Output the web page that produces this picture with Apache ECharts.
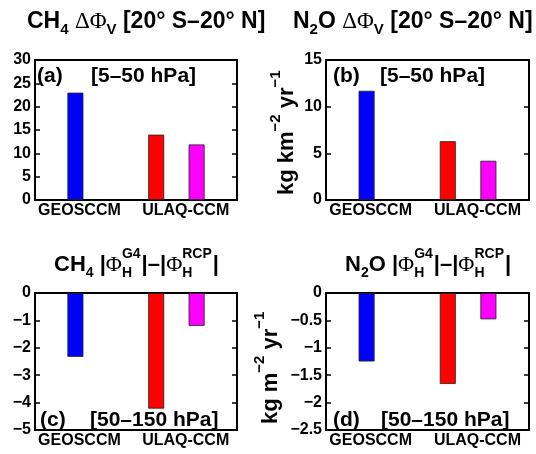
<!DOCTYPE html>
<html><head><meta charset="utf-8">
<script src="https://cdn.jsdelivr.net/npm/echarts@6/dist/echarts.min.js"></script>
<style>html,body{margin:0;padding:0;background:#fff}#c{width:536px;height:454px}</style>
</head><body><div id="c"></div><script>
// ---- data ----
const models = ['GEOSCCM', 'ULAQ-CCM'];
const barSlots = [1, 3, 4];              // slot of each bar on the 0..5 x range
const barColors = ['#0000ff', '#ff0000', '#ff00ff'];
const ch4Vertical = [23.0, 14.0, 11.9];   // (a)
const n2oVertical = [11.7, 6.3, 4.2];     // (b)
const ch4Horizontal = [-2.33, -4.22, -1.2]; // (c)
const n2oHorizontal = [-1.25, -1.66, -0.48]; // (d)
const yRanges = [[0, 30, 5], [0, 15, 5], [-5, 0, 1], [-2.5, 0, 0.5]];
const panelTags = ['(a)', '(b)', '(c)', '(d)'];
const layerTags = ['[5\u201350 hPa]', '[5\u201350 hPa]', '[50\u2013150 hPa]', '[50\u2013150 hPa]'];

const panels = [ch4Vertical, n2oVertical, ch4Horizontal, n2oHorizontal];
const grids = [
  {left: 35, top: 60, width: 202, height: 140},
  {left: 326, top: 60, width: 203, height: 140},
  {left: 35, top: 293, width: 202, height: 137},
  {left: 326, top: 293, width: 203, height: 137}
];
const chart = echarts.init(document.getElementById('c'), null, {renderer: 'canvas'});
const fmtY = v => (v < 0 ? '\u2212' : '') + Math.abs(v);
const option = {
  animation: false,
  backgroundColor: '#fff',
  grid: grids.map(g => Object.assign({show: true, borderColor: '#000', borderWidth: 2, backgroundColor: 'transparent'}, g)),
  xAxis: grids.map((g, i) => ({
    type: 'value', gridIndex: i, min: 0, max: 5,
    axisLine: {show: false}, axisTick: {show: false}, splitLine: {show: false},
    axisLabel: {
      customValues: [1.1, 3.73],
      formatter: v => (v < 2 ? models[0] : models[1]),
      color: '#000', fontWeight: 'bold', fontSize: 16, fontFamily: 'Liberation Sans', margin: 3
    }
  })),
  yAxis: [].concat(...grids.map((g, i) => {
    const [mn, mx, it] = yRanges[i];
    const base = {type: 'value', gridIndex: i, min: mn, max: mx, interval: it,
      splitLine: {show: false}, axisLine: {show: false},
      axisTick: {show: true, inside: true, length: 5, lineStyle: {color: '#000', width: 1.5}}};
    return [
      Object.assign({}, base, {position: 'left', axisLabel: {formatter: fmtY, color: '#000', fontWeight: 'bold', fontSize: 16, fontFamily: 'Liberation Sans', margin: 4, showMinLabel: true, showMaxLabel: true}}),
      Object.assign({}, base, {position: 'right', axisLabel: {show: false}})
    ];
  })),
  series: panels.map((vals, i) => ({
    type: 'bar', xAxisIndex: i, yAxisIndex: 2 * i, barWidth: 16,
    itemStyle: {borderColor: '#222', borderWidth: 0.8},
    data: barSlots.map((x, k) => ({value: [x, vals[k]], itemStyle: {color: barColors[k]}}))
  })),
  graphic: []
};

// ---- math-like text built from pieces ----
const mctx = document.createElement('canvas').getContext('2d');
function tw(t, font) { mctx.font = font; return mctx.measureText(t).width; }
function txt(t, x, y, font) {
  return {type: 'text', x: x, y: y, silent: true,
    style: {text: t, font: font, fill: '#000', align: 'left', verticalAlign: 'middle', textAlign: 'left', textVerticalAlign: 'middle'}};
}
function mathRow(parts, o) {
  const fonts = {
    main: 'bold ' + o.size + 'px "Liberation Sans"',
    greek: o.size + 'px "Liberation Serif"',
    small: 'bold ' + o.small + 'px "Liberation Sans"'
  };
  let x = 0; const els = [];
  parts.forEach(p => {
    if (p.stack) {
      els.push(txt(p.sup, x, o.sup, fonts.small));
      els.push(txt(p.sub, x, o.sub, fonts.small));
      x += Math.max(tw(p.sup, fonts.small), tw(p.sub, fonts.small)) + 1;
    } else {
      const f = p.f === 'sub' || p.f === 'sup' ? fonts.small : (p.f === 'greek' ? fonts.greek : fonts.main);
      const dy = p.f === 'sub' ? o.sub : (p.f === 'sup' ? o.sup : 0);
      els.push(txt(p.t, x, dy, f));
      x += tw(p.t, f);
    }
  });
  return els;
}
const titleOptTop = {size: 23, small: 15, sub: 8, sup: -11};
const titleOptBottom = {size: 22, small: 14, sub: 8, sup: -11};
const titles = [
  {x: 27, y: 21.6, o: titleOptTop, parts: [{t: 'CH'}, {t: '4', f: 'sub'}, {t: ' '}, {t: '\u0394\u03A6', f: 'greek'}, {t: 'V', f: 'sub'}, {t: ' [20\u00B0 S\u201320\u00B0 N]'}]},
  {x: 293, y: 21.6, o: titleOptTop, parts: [{t: 'N'}, {t: '2', f: 'sub'}, {t: 'O '}, {t: '\u0394\u03A6', f: 'greek'}, {t: 'V', f: 'sub'}, {t: ' [20\u00B0 S\u201320\u00B0 N]'}]},
  {x: 54, y: 265, o: titleOptBottom, parts: [{t: 'CH'}, {t: '4', f: 'sub'}, {t: ' |'}, {t: '\u03A6', f: 'greek'}, {stack: 1, sup: 'G4', sub: 'H'}, {t: '|\u2013|'}, {t: '\u03A6', f: 'greek'}, {stack: 1, sup: 'RCP', sub: 'H'}, {t: '|'}]},
  {x: 345, y: 265, o: titleOptBottom, parts: [{t: 'N'}, {t: '2', f: 'sub'}, {t: 'O |'}, {t: '\u03A6', f: 'greek'}, {stack: 1, sup: 'G4', sub: 'H'}, {t: '|\u2013|'}, {t: '\u03A6', f: 'greek'}, {stack: 1, sup: 'RCP', sub: 'H'}, {t: '|'}]}
];
titles.forEach(T => option.graphic.push({type: 'group', x: T.x, y: T.y, children: mathRow(T.parts, T.o)}));

// y-axis unit labels (rotated)
const unitOpt = {size: 22, small: 15, sub: 0, sup: -11};
const units = [
  {x: 287, y: 195, parts: [{t: 'kg km'}, {t: '\u22122', f: 'sup'}, {t: ' yr'}, {t: '\u22121', f: 'sup'}]},
  {x: 271, y: 424, parts: [{t: 'kg m'}, {t: '\u22122', f: 'sup'}, {t: ' yr'}, {t: '\u22121', f: 'sup'}]}
];
units.forEach(U => option.graphic.push({type: 'group', x: U.x, y: U.y, rotation: Math.PI / 2, children: mathRow(U.parts, unitOpt)}));

// panel tags and layer labels
const tagPos = [[37, 91, 76], [333, 380, 76], [40, 90, 420], [333, 381, 420]];
tagPos.forEach((p, i) => {
  option.graphic.push(txt(panelTags[i], p[0], p[2], 'bold 21px "Liberation Sans"'));
  option.graphic.push(txt(layerTags[i], p[1], p[2], 'bold 21px "Liberation Sans"'));
});

chart.setOption(option);
</script></body></html>
